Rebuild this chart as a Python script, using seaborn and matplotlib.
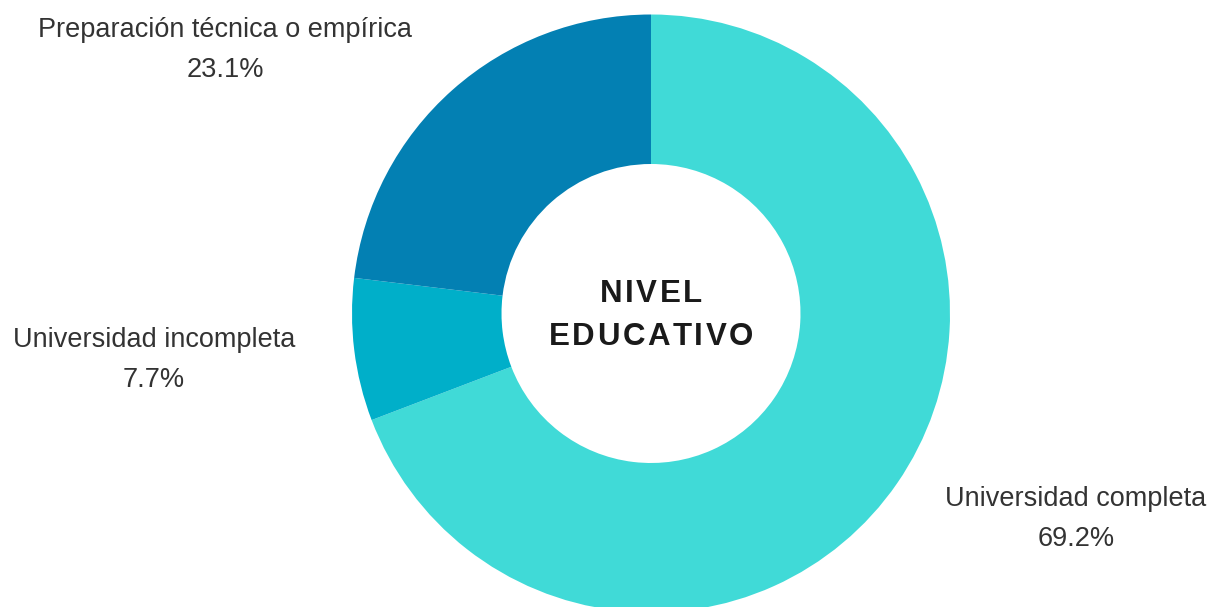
import matplotlib
matplotlib.use('Agg')
import matplotlib.pyplot as plt
from matplotlib.font_manager import FontProperties
import seaborn as sns

sns.set_theme(style='white')
plt.rcParams['font.family'] = ['Liberation Sans', 'DejaVu Sans']

# Datos
categorias = ['Universidad completa', 'Universidad incompleta', 'Preparación técnica o empírica']
porcentajes = [69.2, 7.7, 23.1]
colores = ['#40DAD7', '#00AFC9', '#0380B3']
titulo_centro = ['NIVEL', 'EDUCATIVO']

# Posiciones de etiquetas (píxeles, origen arriba-izquierda)
pos_etiquetas = [(1076, 519), (154, 360), (225, 50)]

W, H = 1211, 607
fig = plt.figure(figsize=(W / 100, H / 100), dpi=100)
ax = fig.add_axes([0, 0, 1, 1])

cx, cy, r = 651, H - 313.5, 299
ax.pie(porcentajes, colors=colores, startangle=90, counterclock=False,
       center=(cx, cy), radius=r, frame=True,
       wedgeprops=dict(width=r * 0.5, linewidth=0))
ax.set_xlim(0, W)
ax.set_ylim(0, H)
ax.set_aspect('equal')
ax.axis('off')

for cat, pct, (x, y) in zip(categorias, porcentajes, pos_etiquetas):
    ax.text(x, H - y, f'{cat}\n{pct:.1f}%', ha='center', va='center',
            fontsize=19.5, color='#333333', linespacing=1.68)

# Texto central con espaciado entre letras
fp = FontProperties(family='Liberation Sans', weight='bold', size=22.5)
renderer = fig.canvas.get_renderer()
espacio = 2.6
for linea, y_px in zip(titulo_centro, [294, 337]):
    anchos = [renderer.get_text_width_height_descent(ch, fp, ismath=False)[0] for ch in linea]
    total = sum(anchos) + espacio * (len(linea) - 1)
    x = cx - total / 2
    for ch, w in zip(linea, anchos):
        ax.text(x, H - y_px, ch, ha='left', va='center', fontproperties=fp, color='#1a1a1a')
        x += w + espacio

fig.savefig('out.png', dpi=100)
plt.close(fig)
